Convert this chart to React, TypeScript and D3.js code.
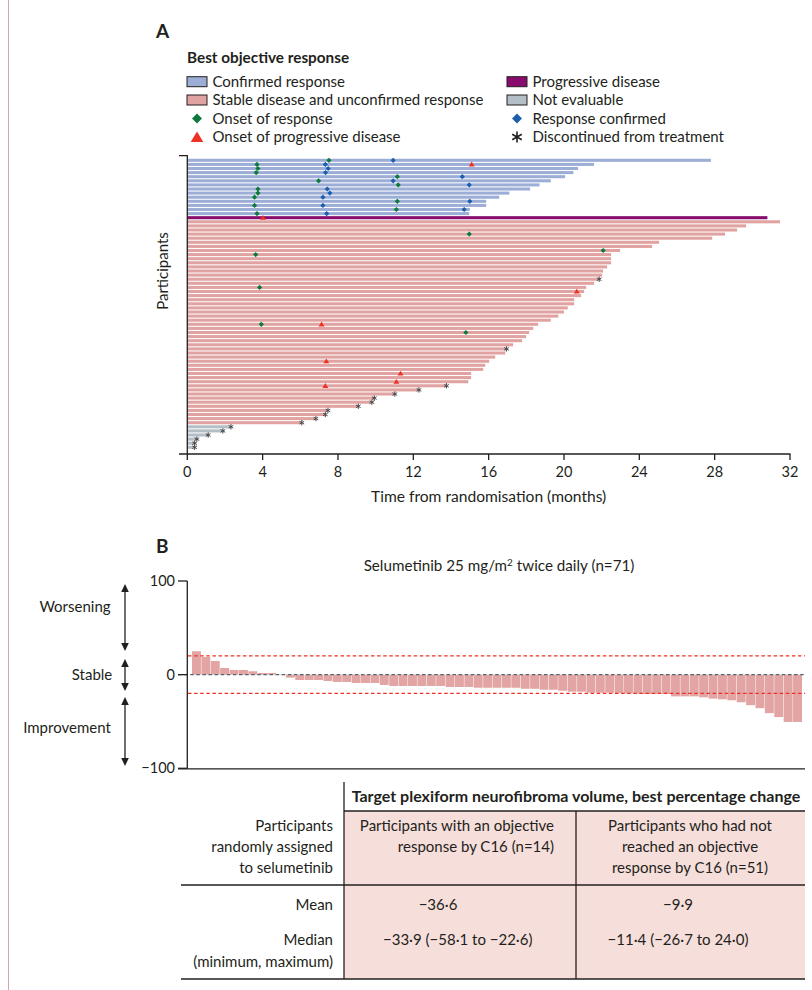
import * as d3 from "d3";

// ---- panel A data: months on study, one array per best response group (top to bottom) ----
const confirmedEnd = [27.8, 21.6, 20.75, 20.5, 20.06, 19.3, 18.7, 18.2, 17.1, 16.56, 15.87, 15.87, 15.0, 14.97];
const progressiveEnd = [30.8];
const stableEnd = [
  31.47, 29.67, 29.19, 28.55, 27.87, 25.05, 24.68, 22.98, 22.5, 22.5,
  22.5, 22.29, 22.08, 22.03, 21.87, 21.6, 21.18, 21.07, 20.91, 20.54,
  20.54, 20.2, 20.0, 19.7, 19.3, 18.63, 18.37, 18.15, 17.99, 17.78,
  17.3, 16.94, 16.88, 16.35, 16.03, 15.82, 15.71, 15.07, 15.07, 14.92,
  13.76, 12.3, 11.02, 9.93, 9.8, 9.08, 7.47, 7.33, 6.83, 6.08,
];
const notEvaluableEnd = [2.32, 1.89, 1.11, 0.51, 0.39, 0.39];

// [participant row, month]
const onsetResponse = [
  [0, 7.52], [1, 3.7], [2, 3.75], [3, 3.66], [4, 11.15], [5, 6.97], [6, 11.2], [7, 3.75],
  [8, 3.75], [9, 3.57], [10, 11.15], [11, 3.57], [12, 11.1], [13, 3.7], [18, 14.97],
  [22, 22.08], [23, 3.63], [31, 3.84], [40, 3.93], [42, 14.79],
];
const responseConfirmed = [
  [0, 10.93], [1, 7.33], [2, 7.48], [3, 7.34], [4, 14.6], [5, 10.93], [6, 14.97],
  [7, 7.43], [8, 7.57], [9, 7.2], [10, 15.0], [11, 7.2], [12, 14.7], [13, 7.4],
];
const onsetProgression = [
  [1, 15.1], [14, 4.02], [32, 20.68], [40, 7.13], [49, 7.38], [52, 11.32], [54, 11.1], [55, 7.33],
];
const discontinued = [
  [29, 21.87], [46, 16.95], [55, 13.76], [56, 12.3], [57, 11.02], [58, 9.93], [59, 9.8],
  [60, 9.08], [61, 7.47], [62, 7.33], [63, 6.83], [64, 6.08], [65, 2.32], [66, 1.89],
  [67, 1.11], [68, 0.51], [69, 0.39], [70, 0.39],
];
const monthTicks = [0, 4, 8, 12, 16, 20, 24, 28, 32];

// ---- panel B data: best % change in target PN volume ----
const changeValues = [
  25, 18.9, 14.6, 7.1, 5.0, 5.0, 3.6, 1.8, 1.8, -0.5,
  -3.2, -5.7, -5.7, -5.7, -6.8, -7.8, -7.8, -8.9, -8.9, -8.9,
  -11.0, -12.1, -12.1, -12.1, -12.1, -12.1, -12.1, -13.2, -13.2, -13.2,
  -14.0, -14.0, -14.0, -14.0, -14.0, -15.1, -15.1, -16.1, -16.1, -17.2,
  -18.2, -18.2, -19.3, -19.3, -19.3, -19.6, -20.0, -20.3, -20.7, -20.7,
  -20.7, -23.2, -23.2, -23.2, -24.2, -25.6, -26.3, -27.4, -29.5, -32.6,
  -35.8, -41.1, -45.3, -50.5, -50.5,
];
const changeTicks = [100, 0, -100];
const thresholds = [20, -20];

const colors = {
  confirmed: "#9daed6",
  progressive: "#870c6d",
  stable: "#e0a3a2",
  notEvaluable: "#b3bec6",
};
const GREEN = "#0d7a3d";
const BLUE = "#1c5fae";
const RED = "#ee3124";
const INK = "#231f20";
const FONT = "Lato, 'Open Sans', sans-serif";

const participants = [
  ...confirmedEnd.map((t) => ({ t, group: "confirmed" })),
  ...progressiveEnd.map((t) => ({ t, group: "progressive" })),
  ...stableEnd.map((t) => ({ t, group: "stable" })),
  ...notEvaluableEnd.map((t) => ({ t, group: "notEvaluable" })),
];

const diamond = (r) => `M0,${-r}L${r},0L0,${r}L${-r},0Z`;
const triangle = (r) => `M0,${-r}L${r * 1.05},${r * 0.75}L${-r * 1.05},${r * 0.75}Z`;
const asterisk = (r) =>
  [90, 30, -30]
    .map((a) => {
      const dx = r * Math.cos((a * Math.PI) / 180);
      const dy = r * Math.sin((a * Math.PI) / 180);
      return `M${-dx},${-dy}L${dx},${dy}`;
    })
    .join("");

function PanelA() {
  const x = d3.scaleLinear().domain([0, 32]).range([187.3, 790]);
  const y = d3.scaleBand().domain(d3.range(participants.length)).range([158.25, 449.35]).paddingInner(0.25).paddingOuter(0.125);
  const cy = (r) => y(r) + y.bandwidth() / 2;

  const legendLeft = [
    { kind: "rect", fill: colors.confirmed, label: "Confirmed response" },
    { kind: "rect", fill: colors.stable, label: "Stable disease and unconfirmed response" },
    { kind: "diamond", fill: GREEN, label: "Onset of response" },
    { kind: "triangle", fill: RED, label: "Onset of progressive disease" },
  ];
  const legendRight = [
    { kind: "rect", fill: colors.progressive, label: "Progressive disease" },
    { kind: "rect", fill: colors.notEvaluable, label: "Not evaluable" },
    { kind: "diamond", fill: BLUE, label: "Response confirmed" },
    { kind: "asterisk", fill: INK, label: "Discontinued from treatment" },
  ];
  const rowY = [81.7, 100, 118.5, 137];

  const legendItem = (d, i, x0) => (
    <g key={d.label} transform={`translate(${x0},${rowY[i]})`}>
      {d.kind === "rect" && <rect x={0} y={-5} width={20} height={10} fill={d.fill} stroke={INK} strokeWidth={1} />}
      {d.kind === "diamond" && <path d={diamond(5)} transform="translate(10,0)" fill={d.fill} />}
      {d.kind === "triangle" && <path d={triangle(6)} transform="translate(10,0.5)" fill={d.fill} />}
      {d.kind === "asterisk" && <path d={asterisk(5.5)} transform="translate(10,0)" stroke={d.fill} strokeWidth={1.6} fill="none" />}
      <text x={25.5} y={5.2} fontSize={15} fill={INK}>{d.label}</text>
    </g>
  );

  return (
    <g fontFamily={FONT}>
      <text x={156} y={38} fontSize={19} fontWeight="bold" fill={INK}>A</text>
      <text x={187} y={63} fontSize={15.3} fontWeight="bold" fill={INK}>Best objective response</text>
      {legendLeft.map((d, i) => legendItem(d, i, 187))}
      {legendRight.map((d, i) => legendItem(d, i, 507))}

      {participants.map((p, i) => (
        <rect key={i} x={x(0)} y={y(i)} width={x(p.t) - x(0)} height={y.bandwidth()} fill={colors[p.group]} />
      ))}

      {onsetResponse.map(([r, t], i) => (
        <path key={"g" + i} d={diamond(2.6)} transform={`translate(${x(t)},${cy(r)})`} fill={GREEN} />
      ))}
      {responseConfirmed.map(([r, t], i) => (
        <path key={"b" + i} d={diamond(2.6)} transform={`translate(${x(t)},${cy(r)})`} fill={BLUE} />
      ))}
      {onsetProgression.map(([r, t], i) => (
        <path key={"r" + i} d={triangle(2.8)} transform={`translate(${x(t)},${cy(r)})`} fill={RED} />
      ))}
      {discontinued.map(([r, t], i) => (
        <path key={"s" + i} d={asterisk(2.7)} transform={`translate(${x(t)},${cy(r)})`} stroke="#4a4a4a" strokeWidth={1} fill="none" />
      ))}

      {/* y axis */}
      <path d={`M179,155.7H187.3V454`} fill="none" stroke={INK} strokeWidth={1.3} />
      <text transform="translate(168,271) rotate(-90)" textAnchor="middle" fontSize={15} fill={INK}>Participants</text>

      {/* x axis */}
      <line x1={179} x2={790.5} y1={454} y2={454} stroke={INK} strokeWidth={1.3} />
      {monthTicks.map((m) => (
        <g key={m} transform={`translate(${x(m)},454)`}>
          <line y2={6} stroke={INK} strokeWidth={1.3} />
          <text y={23} textAnchor="middle" fontSize={14.5} fill={INK}>{m}</text>
        </g>
      ))}
      <text x={(x(0) + x(32)) / 2} y={502} textAnchor="middle" fontSize={15.6} fill={INK}>Time from randomisation (months)</text>
    </g>
  );
}

function Arrow({ x, y1, y2 }) {
  return (
    <g fill={INK}>
      <line x1={x} x2={x} y1={y1 + 6} y2={y2 - 6} stroke={INK} strokeWidth={1.3} />
      <path d={`M${x},${y1}L${x + 3.8},${y1 + 8}L${x - 3.8},${y1 + 8}Z`} />
      <path d={`M${x},${y2}L${x + 3.8},${y2 - 8}L${x - 3.8},${y2 - 8}Z`} />
    </g>
  );
}

function PanelB() {
  const xb = d3.scaleBand().domain(d3.range(changeValues.length)).range([192, 802]).paddingInner(0.05);
  const yb = d3.scaleLinear().domain([-100, 100]).range([768.3, 581]);

  return (
    <g fontFamily={FONT}>
      <text x={156} y={553} fontSize={19} fontWeight="bold" fill={INK}>B</text>
      <text x={499} y={571} textAnchor="middle" fontSize={15.2} fill={INK}>
        Selumetinib 25 mg/m<tspan dy={-5} fontSize={10}>2</tspan><tspan dy={5}> twice daily (n=71)</tspan>
      </text>

      {changeValues.map((v, i) => (
        <rect key={i} x={xb(i)} width={xb.bandwidth()} y={yb(Math.max(0, v))} height={Math.abs(yb(v) - yb(0))} fill="#e2a5a4" />
      ))}

      {thresholds.map((t) => (
        <line key={t} x1={188} x2={805} y1={yb(t)} y2={yb(t)} stroke={RED} strokeWidth={1.3} strokeDasharray="3.5,2.6" />
      ))}
      <line x1={178} x2={805} y1={yb(0)} y2={yb(0)} stroke="#51666f" strokeWidth={1.3} strokeDasharray="3.5,2.6" />

      <line x1={187.3} x2={187.3} y1={yb(100)} y2={yb(-100)} stroke={INK} strokeWidth={1.3} />
      {changeTicks.map((t) => (
        <g key={t}>
          <line x1={178} x2={187.3} y1={yb(t)} y2={yb(t)} stroke={INK} strokeWidth={1.3} />
          <text x={175} y={yb(t) + 5} textAnchor="end" fontSize={14.5} fill={INK}>{t < 0 ? `\u2212${-t}` : t}</text>
        </g>
      ))}

      <text x={75} y={612} textAnchor="middle" fontSize={15} fill={INK}>Worsening</text>
      <Arrow x={125} y1={584} y2={651} />
      <text x={92} y={680} textAnchor="middle" fontSize={15} fill={INK}>Stable</text>
      <Arrow x={125} y1={659} y2={691} />
      <text x={67} y={733} textAnchor="middle" fontSize={15} fill={INK}>Improvement</text>
      <Arrow x={125} y1={697} y2={766} />
    </g>
  );
}

function SummaryTable() {
  const t = (x, y, s, anchor = "start", weight = "normal", size = 15) => (
    <text x={x} y={y} textAnchor={anchor} fontWeight={weight} fontSize={size} fill={INK}>{s}</text>
  );
  return (
    <g fontFamily={FONT}>
      <rect x={344} y={811} width={461} height={168} fill="#f6dedb" />
      <line x1={178} x2={805} y1={768.8} y2={768.8} stroke={INK} strokeWidth={1.3} />
      <line x1={344} x2={344} y1={782} y2={979} stroke={INK} strokeWidth={1.3} />
      <line x1={344} x2={805} y1={811} y2={811} stroke={INK} strokeWidth={1.3} />
      <line x1={576} x2={576} y1={811} y2={979} stroke={INK} strokeWidth={1.3} />
      <line x1={181} x2={805} y1={885} y2={885} stroke={INK} strokeWidth={1.3} />
      <line x1={181} x2={805} y1={979} y2={979} stroke={INK} strokeWidth={1.3} />

      {t(576, 802, "Target plexiform neurofibroma volume, best percentage change", "middle", "bold", 16)}

      {t(333, 831, "Participants", "end")}
      {t(333, 852, "randomly assigned", "end")}
      {t(333, 873, "to selumetinib", "end")}
      {t(554, 831, "Participants with an objective", "end")}
      {t(554, 852, "response by C16 (n=14)", "end")}
      {t(690, 831, "Participants who had not", "middle")}
      {t(690, 852, "reached an objective", "middle")}
      {t(690, 873, "response by C16 (n=51)", "middle")}

      {t(333, 910, "Mean", "end")}
      {t(333, 945, "Median", "end")}
      {t(333, 967, "(minimum, maximum)", "end")}
      {t(438, 910, "\u221236\u00b76", "middle")}
      {t(383, 945, "\u221233\u00b79 (\u221258\u00b71 to \u221222\u00b76)")}
      {t(678, 910, "\u22129\u00b79", "middle")}
      {t(678, 945, "\u221211\u00b74 (\u221226\u00b77 to 24\u00b70)", "middle")}
    </g>
  );
}

export default function App() {
  return (
    <svg width={812} height={990} style={{ position: "absolute", left: 0, top: 0, background: "#fff" }}>
      <rect width={812} height={990} fill="#fff" />
      <line x1={8.5} x2={8.5} y1={0} y2={990} stroke="#d3a3b8" strokeWidth={1} />
      <PanelA />
      <PanelB />
      <SummaryTable />
    </svg>
  );
}
